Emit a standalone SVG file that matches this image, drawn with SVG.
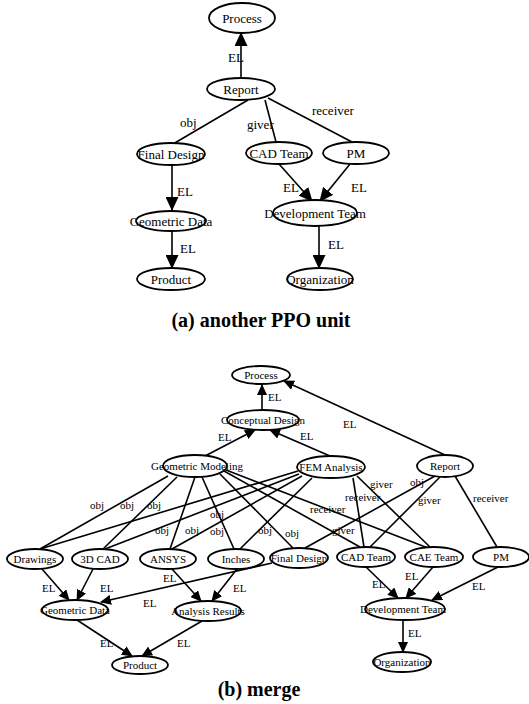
<svg xmlns="http://www.w3.org/2000/svg" width="529" height="704" viewBox="0 0 529 704">
  <style>
    .n ellipse { fill: #fff; stroke: #000; stroke-width: 1.8; }
    .n text { font-family: "Liberation Serif", "Times New Roman", serif; text-anchor: middle; fill: #000; }
    .a text { font-size: 13px; }
    .b text { font-size: 11px; }
    .e line { stroke: #000; stroke-width: 1.6; fill: none; }
    .e .ar { marker-end: url(#ahA); }
    .e .br { marker-end: url(#ahB); }
    .lbl { font-family: "Liberation Serif", "Times New Roman", serif; fill: #000; }
    .la { font-size: 13px; }
    .lb { font-size: 11px; }
    .cap { font-family: "Liberation Serif", "Times New Roman", serif; font-size: 20px; font-weight: bold; text-anchor: middle; fill: #000; }
  </style>
  <defs>
    <marker id="ahA" viewBox="0 0 14 13" refX="13" refY="6.5" markerWidth="14" markerHeight="13" markerUnits="userSpaceOnUse" orient="auto">
      <path d="M0,0 L14,6.5 L0,13 z" fill="#000"/>
    </marker>
    <marker id="ahB" viewBox="0 0 11 10" refX="10" refY="5" markerWidth="11" markerHeight="10" markerUnits="userSpaceOnUse" orient="auto">
      <path d="M0,0 L11,5 L0,10 z" fill="#000"/>
    </marker>
  </defs>
  <rect width="529" height="704" fill="#fff"/>

  <!-- (a) connectors -->
  <g id="edges-a" class="e">
    <line class="ar" x1="241" y1="79" x2="241" y2="33"/>
    <line x1="248" y1="100" x2="173" y2="144"/>
    <line x1="265" y1="100" x2="276" y2="142"/>
    <line x1="268" y1="98" x2="352" y2="142"/>
    <line class="ar" x1="172" y1="165" x2="172" y2="210"/>
    <line class="ar" x1="172" y1="231" x2="172" y2="268"/>
    <line class="ar" x1="279" y1="164" x2="312" y2="201"/>
    <line class="ar" x1="350" y1="164" x2="320" y2="201"/>
    <line class="ar" x1="319" y1="226" x2="319" y2="268"/>
  </g>
  <g id="labels-a" class="lbl la">
    <text x="228" y="62">EL</text>
    <text x="180" y="127">obj</text>
    <text x="247" y="129">giver</text>
    <text x="312" y="115">receiver</text>
    <text x="177" y="196">EL</text>
    <text x="180" y="253">EL</text>
    <text x="283" y="192">EL</text>
    <text x="351" y="192">EL</text>
    <text x="328" y="249">EL</text>
  </g>

  <!-- (a) nodes -->
  <g id="a-process" class="n a"><ellipse cx="242" cy="18" rx="33" ry="15"/><text x="242" y="22.5">Process</text></g>
  <g id="a-report" class="n a"><ellipse cx="241" cy="89" rx="34" ry="11"/><text x="241" y="93.5">Report</text></g>
  <g id="a-final-design" class="n a"><ellipse cx="171" cy="154" rx="34" ry="11"/><text x="171" y="158.5">Final Design</text></g>
  <g id="a-cad-team" class="n a"><ellipse cx="279" cy="153" rx="33" ry="11"/><text x="279" y="157.5">CAD Team</text></g>
  <g id="a-pm" class="n a"><ellipse cx="356" cy="153" rx="33" ry="11"/><text x="356" y="157.5">PM</text></g>
  <g id="a-geometric-data" class="n a"><ellipse cx="171" cy="221" rx="35" ry="10"/><text x="171" y="225.5">Geometric Data</text></g>
  <g id="a-development-team" class="n a"><ellipse cx="315" cy="213" rx="42" ry="13"/><text x="315" y="217.5">Development Team</text></g>
  <g id="a-product" class="n a"><ellipse cx="171" cy="279" rx="34" ry="11"/><text x="171" y="283.5">Product</text></g>
  <g id="a-organization" class="n a"><ellipse cx="320" cy="279" rx="33" ry="11"/><text x="320" y="283.5">Organization</text></g>

  <text class="cap" x="261" y="327">(a) another PPO unit</text>

  <!-- (b) connectors -->
  <g id="edges-b" class="e">
    <line class="br" x1="262" y1="410" x2="262" y2="385"/>
    <line class="br" x1="205" y1="456" x2="255" y2="430"/>
    <line class="br" x1="330" y1="456" x2="270" y2="430"/>
    <line class="br" x1="445" y1="455" x2="284" y2="381"/>
    <!-- Geometric Modeling -->
    <line x1="168" y1="476" x2="40" y2="549"/>
    <line x1="177" y1="477" x2="103" y2="549"/>
    <line x1="195" y1="477" x2="170" y2="549"/>
    <line x1="202" y1="477" x2="234" y2="549"/>
    <line x1="220" y1="474" x2="293" y2="548"/>
    <line x1="224" y1="471" x2="360" y2="547"/>
    <line x1="226" y1="470" x2="428" y2="548"/>
    <!-- FEM Analysis -->
    <line x1="298" y1="471" x2="40" y2="549"/>
    <line x1="299" y1="474" x2="105" y2="549"/>
    <line x1="302" y1="476" x2="172" y2="549"/>
    <line x1="312" y1="478" x2="240" y2="549"/>
    <line x1="357" y1="476" x2="430" y2="547"/>
    <line x1="353" y1="478" x2="364" y2="547"/>
    <!-- Report -->
    <line x1="435" y1="476" x2="305" y2="548"/>
    <line x1="440" y1="477" x2="370" y2="547"/>
    <line x1="455" y1="476" x2="497" y2="547"/>
    <!-- lower levels -->
    <line class="br" x1="42" y1="569" x2="69" y2="600"/>
    <line class="br" x1="93" y1="569" x2="77" y2="600"/>
    <line class="br" x1="272" y1="563" x2="101" y2="602"/>
    <line class="br" x1="172" y1="569" x2="201" y2="601"/>
    <line class="br" x1="237" y1="569" x2="212" y2="601"/>
    <line class="br" x1="77" y1="620" x2="132" y2="656"/>
    <line class="br" x1="202" y1="621" x2="142" y2="656"/>
    <line class="br" x1="366" y1="567" x2="398" y2="598"/>
    <line class="br" x1="433" y1="567" x2="406" y2="598"/>
    <line class="br" x1="498" y1="567" x2="432" y2="600"/>
    <line class="br" x1="403" y1="620" x2="403" y2="652"/>
  </g>
  <g id="labels-b" class="lbl lb">
    <text x="268" y="401">EL</text>
    <text x="218" y="441">EL</text>
    <text x="300" y="440">EL</text>
    <text x="343" y="428">EL</text>
    <text x="90" y="509">obj</text>
    <text x="120" y="509">obj</text>
    <text x="147" y="509">obj</text>
    <text x="210" y="518">obj</text>
    <text x="155" y="534">obj</text>
    <text x="185" y="534">obj</text>
    <text x="210" y="535">obj</text>
    <text x="258" y="534">obj</text>
    <text x="285" y="537">obj</text>
    <text x="410" y="486">obj</text>
    <text x="370" y="488">giver</text>
    <text x="418" y="504">giver</text>
    <text x="332" y="534">giver</text>
    <text x="345" y="501">receiver</text>
    <text x="310" y="513">receiver</text>
    <text x="473" y="502">receiver</text>
    <text x="42" y="592">EL</text>
    <text x="100" y="592">EL</text>
    <text x="143" y="607">EL</text>
    <text x="163" y="582">EL</text>
    <text x="233" y="592">EL</text>
    <text x="100" y="647">EL</text>
    <text x="177" y="647">EL</text>
    <text x="372" y="588">EL</text>
    <text x="405" y="580">EL</text>
    <text x="472" y="590">EL</text>
    <text x="408" y="637">EL</text>
  </g>

  <!-- (b) nodes -->
  <g id="b-process" class="n b"><ellipse cx="261" cy="375" rx="29" ry="9"/><text x="261" y="379">Process</text></g>
  <g id="b-conceptual-design" class="n b"><ellipse cx="263" cy="420" rx="36" ry="10"/><text x="263" y="424">Conceptual Design</text></g>
  <g id="b-geometric-modeling" class="n b"><ellipse cx="195" cy="466" rx="32" ry="11"/><text x="197" y="470">Geometric Modeling</text></g>
  <g id="b-fem-analysis" class="n b"><ellipse cx="331" cy="467" rx="34" ry="11"/><text x="331" y="471">FEM Analysis</text></g>
  <g id="b-report" class="n b"><ellipse cx="445" cy="466" rx="28" ry="11"/><text x="445" y="470">Report</text></g>
  <g id="b-drawings" class="n b"><ellipse cx="35" cy="559" rx="28" ry="10"/><text x="35" y="563">Drawings</text></g>
  <g id="b-3d-cad" class="n b"><ellipse cx="100" cy="559" rx="28" ry="10"/><text x="100" y="563">3D CAD</text></g>
  <g id="b-ansys" class="n b"><ellipse cx="168" cy="559" rx="28" ry="10"/><text x="168" y="563">ANSYS</text></g>
  <g id="b-inches" class="n b"><ellipse cx="236" cy="559" rx="28" ry="10"/><text x="236" y="563">Inches</text></g>
  <g id="b-final-design" class="n b"><ellipse cx="299" cy="558" rx="29" ry="10"/><text x="299" y="562">Final Design</text></g>
  <g id="b-cad-team" class="n b"><ellipse cx="366" cy="557" rx="29" ry="10"/><text x="366" y="561">CAD Team</text></g>
  <g id="b-cae-team" class="n b"><ellipse cx="434" cy="557" rx="29" ry="10"/><text x="434" y="561">CAE Team</text></g>
  <g id="b-pm" class="n b"><ellipse cx="501" cy="557" rx="28" ry="10"/><text x="501" y="561">PM</text></g>
  <g id="b-geometric-data" class="n b"><ellipse cx="75" cy="610" rx="33" ry="10"/><text x="75" y="614">Geometric Data</text></g>
  <g id="b-analysis-results" class="n b"><ellipse cx="208" cy="611" rx="33" ry="10"/><text x="208" y="615">Analysis Results</text></g>
  <g id="b-development-team" class="n b"><ellipse cx="405" cy="609" rx="40" ry="11"/><text x="403" y="613">Development Team</text></g>
  <g id="b-product" class="n b"><ellipse cx="140" cy="665" rx="28" ry="9"/><text x="140" y="669">Product</text></g>
  <g id="b-organization" class="n b"><ellipse cx="402" cy="662" rx="29" ry="10"/><text x="402" y="666">Organization</text></g>

  <text class="cap" x="259" y="696">(b) merge</text>
</svg>
